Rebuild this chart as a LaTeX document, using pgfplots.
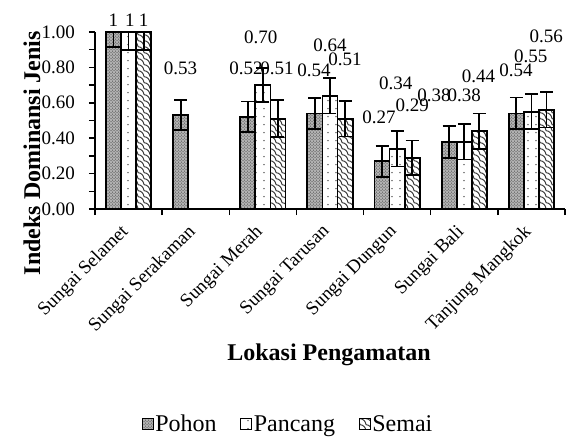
\documentclass[border=0pt]{standalone}
\usepackage{pgfplots}
\pgfplotsset{compat=1.18}
\usepackage{pgfplotstable}
\usepackage{fontspec}
\setmainfont{Liberation Serif}
\usetikzlibrary{patterns,patterns.meta}

\pgfdeclarepatternformonly{shingle}{\pgfqpoint{-1pt}{-1pt}}{\pgfqpoint{7pt}{7pt}}{\pgfqpoint{6pt}{6pt}}{%
  \pgfsetlinewidth{1pt}%
  \pgfpathmoveto{\pgfqpoint{0pt}{6pt}}%
  \pgfpathcurveto{\pgfqpoint{3.5pt}{5.5pt}}{\pgfqpoint{5.5pt}{3.5pt}}{\pgfqpoint{6pt}{0pt}}%
  \pgfusepath{stroke}}

\newcommand\tickfont{\fontsize{19}{23}\selectfont}
\newcommand\titlefont{\fontsize{24}{28}\selectfont\bfseries}

\pgfplotstableread{
x y ep em
-0.225 1.00 0 0.085
0.775 0.53 0.085 0.085
1.775 0.52 0.087 0.087
2.775 0.54 0.087 0.087
3.775 0.27 0.087 0.087
4.775 0.38 0.09 0.09
5.775 0.54 0.09 0.09
}\pohon
\pgfplotstableread{
x y ep em
0 1.00 0 0.10
2 0.70 0.097 0.097
3 0.64 0.10 0.10
4 0.34 0.10 0.10
5 0.38 0.10 0.10
6 0.55 0.10 0.10
}\pancang
\pgfplotstableread{
x y ep em
0.225 1.00 0 0.10
2.225 0.51 0.105 0.105
3.225 0.51 0.10 0.10
4.225 0.29 0.097 0.097
5.225 0.44 0.10 0.10
6.225 0.56 0.10 0.10
}\semai
\pgfplotstableread{
x ly lbl
-0.225 1.068 1
0.02 1.068 1
0.225 1.068 1
0.775 0.794 0.53
1.75 0.794 0.52
1.97 0.972 0.70
2.21 0.794 0.51
2.76 0.785 0.54
3.0 0.924 0.64
3.225 0.847 0.51
3.73 0.52 0.27
3.98 0.712 0.34
4.225 0.585 0.29
4.55 0.641 0.38
5.0 0.641 0.38
5.21 0.751 0.44
5.77 0.785 0.54
5.99 0.862 0.55
6.22 0.975 0.56
}\labels

\begin{document}
\begin{tikzpicture}
\path (-95pt,-226pt) rectangle (476pt,209pt);
\begin{axis}[
  at={(0,0)}, anchor=south west,
  scale only axis, width=470pt, height=177pt,
  xmin=-0.5, xmax=6.5, ymin=0, ymax=1,
  axis lines=left, axis line style={-, line width=1.5pt},
  clip=false,
  xtick={0,...,6},
  xticklabels={Sungai Selamet,Sungai Serakaman,Sungai Merah,Sungai Tarusan,Sungai Dungun,Sungai Bali,Tanjung Mangkok},
  major x tick style={draw=none},
  minor xtick={-0.5,0.5,...,6.5},
  ytick={0,0.2,0.4,0.6,0.8,1.0},
  minor ytick={0.1,0.3,0.5,0.7,0.9},
  tick align=outside, major tick length=6pt, minor tick length=6pt,
  tick style={black, line width=1.5pt},
  yticklabel style={font=\tickfont, anchor=east, inner sep=0pt, xshift=-14pt},
  xticklabel style={font=\tickfont, anchor=north east, inner sep=0pt, xshift=-9pt, yshift=-8pt, rotate=45},
  /pgf/number format/.cd, fixed, fixed zerofill, precision=2, assume math mode=true,
  /pgfplots/.cd,
  xlabel={Lokasi Pengamatan},
  ylabel={Indeks Dominansi Jenis},
  xlabel style={font=\titlefont, at={(axis description cs:0.498,-0.825)}, anchor=center},
  ylabel style={font=\titlefont, at={(axis description cs:-0.134,0.316)}, anchor=center},
  legend style={at={(axis description cs:0.41,-1.215)}, anchor=center, draw=none,
    font=\fontsize{24}{28}\selectfont, legend columns=3,
    nodes={inner sep=1.5pt},
    /tikz/every even column/.append style={column sep=22pt}},
  legend image code/.code={\draw[#1, line width=1.2pt] (0pt,-5.5pt) rectangle (11pt,5.5pt);},
  error bars/y dir=both, error bars/y explicit,
  error bars/error bar style={black, line width=1.8pt},
  error bars/error mark options={rotate=90, black, mark size=6.5pt, line width=1.8pt},
]
\addplot[ybar, bar width=0.225, bar shift=0pt, draw=black, line width=1.8pt,
  fill=black!30, postaction={pattern=crosshatch dots, pattern color=black!80}]
  table[x=x, y=y, y error plus=ep, y error minus=em] \pohon;
\addlegendentry{Pohon}
\addplot[ybar, bar width=0.225, bar shift=0pt, draw=black, line width=1.8pt,
  fill=white, postaction={pattern={Dots[distance=8pt, radius=0.8pt]}, pattern color=black!70}]
  table[x=x, y=y, y error plus=ep, y error minus=em] \pancang;
\addlegendentry{Pancang}
\addplot[ybar, bar width=0.225, bar shift=0pt, draw=black, line width=1.8pt,
  fill=white, postaction={pattern=shingle, pattern color=black!75}]
  table[x=x, y=y, y error plus=ep, y error minus=em] \semai;
\addlegendentry{Semai}
\addplot[forget plot, draw=none, mark=none, error bars/y dir=none,
  nodes near coords, point meta=explicit symbolic,
  every node near coord/.style={anchor=center, inner sep=0pt, font=\tickfont, black}]
  table[x=x, y=ly, meta=lbl] \labels;
\end{axis}
\end{tikzpicture}
\end{document}
